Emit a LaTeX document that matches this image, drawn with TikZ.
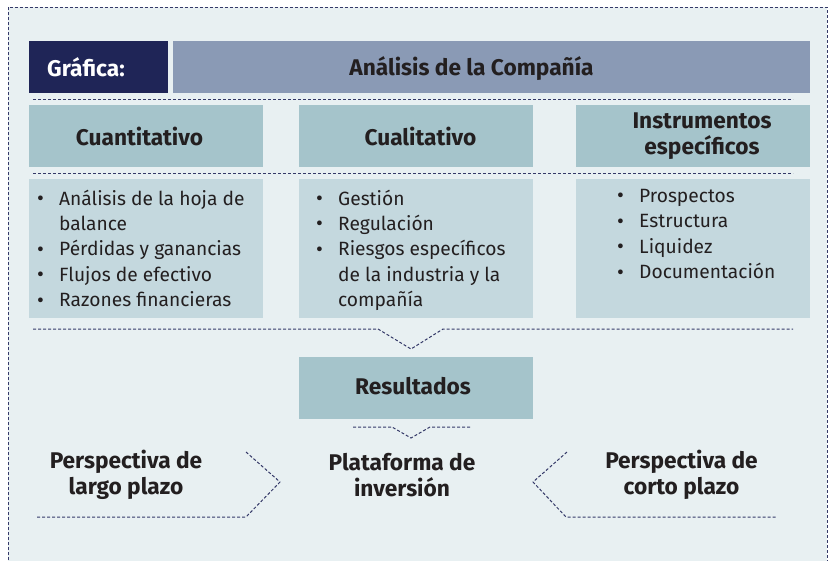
\documentclass[tikz,border=0pt]{standalone}
\usepackage{fontspec}
\setmainfont{Fira Sans}

\definecolor{bgpanel}{RGB}{232,240,242}
\definecolor{navy}{RGB}{31,37,87}
\definecolor{titlebar}{RGB}{138,154,181}
\definecolor{headbox}{RGB}{165,196,203}
\definecolor{listbox}{RGB}{196,216,222}
\definecolor{dashline}{RGB}{52,57,104}
\definecolor{ink}{RGB}{35,31,32}

\newcommand{\bl}{\makebox[22pt][l]{\raisebox{-0.5pt}{\fontsize{21}{21}\selectfont\textbullet}}}
\newcommand{\cont}{\hspace*{22pt}}

\begin{document}
\begin{tikzpicture}[x=1pt, y=-1pt,
  sep/.style={dashline, line width=1pt, dash pattern=on 3pt off 2pt},
  heading/.style={inner sep=0pt, text=ink, align=center, font=\bfseries\fontsize{22.7}{26}\selectfont},
  items/.style={anchor=north west, inner sep=0pt, align=left, text=ink,
    font=\fontsize{19.2}{25.4}\selectfont, execute at begin node=\strut}]

\clip (0,0) rectangle (833,560);

% panel
\fill[white] (0,0) rectangle (833,560);
\fill[bgpanel] (8,7) rectangle (827,570);
\draw[sep] (8,570) -- (8,7) -- (827,7) -- (827,570);

% title bar
\fill[navy] (29,41) rectangle (168,93);
\fill[titlebar] (173,41) rectangle (810,93);
\node (grafica) at (47,67.5) [heading, anchor=west, text=white] {Gráfica:};
\node (analisis) at (471.5,69) [heading] {Análisis de la Compañía};
\draw[sep] (33,99) -- (793,99);

% column heads
\fill[headbox] (29,105) rectangle (263,167);
\fill[headbox] (299,105) rectangle (533,167);
\fill[headbox] (576,105) rectangle (810,167);
\node (cuanti) at (139.5,136) [heading] {Cuantitativo};
\node (cuali) at (420.5,136) [heading] {Cualitativo};
\node (instr) at (702,136) [heading] {Instrumentos\\específicos};
\draw[sep] (33,173) -- (793,173);

% lists
\fill[listbox] (29,179) rectangle (263,318);
\fill[listbox] (299,179) rectangle (533,318);
\fill[listbox] (576,179) rectangle (810,318);
\node (cuantilist) at (37,189.5) [items] {\bl Análisis de la hoja de\\\cont balance\\\bl Pérdidas y ganancias\\\bl Flujos de efectivo\\\bl Razones financieras};
\node (cualilist) at (316,189.5) [items] {\bl Gestión\\\bl Regulación\\\bl Riesgos específicos\\\cont de la industria y la\\\cont compañía};
\node (instrlist) at (617,189) [items] {\bl Prospectos\\\bl Estructura\\\bl Liquidez\\\bl Documentación};

\draw[sep] (33,329) -- (378,329) -- (411,349) -- (443,329) -- (793,329);

% results
\fill[headbox] (299,357) rectangle (533,419);
\node (result) at (413,386) [heading] {Resultados};
\draw[sep] (353,427) -- (392,427) -- (411,438) -- (430,427) -- (472,427);

% perspectives
\node (largo) at (126,475) [heading] {Perspectiva de\\largo plazo};
\node (plataforma) at (402,475) [heading] {Plataforma de\\inversión};
\node (corto) at (681.5,475) [heading] {Perspectiva de\\corto plazo};
\draw[sep] (246,452) -- (280,482) -- (246,517) -- (37,517);
\draw[sep] (567,452) -- (533,482) -- (566,517) -- (777,517);

\end{tikzpicture}
\end{document}
